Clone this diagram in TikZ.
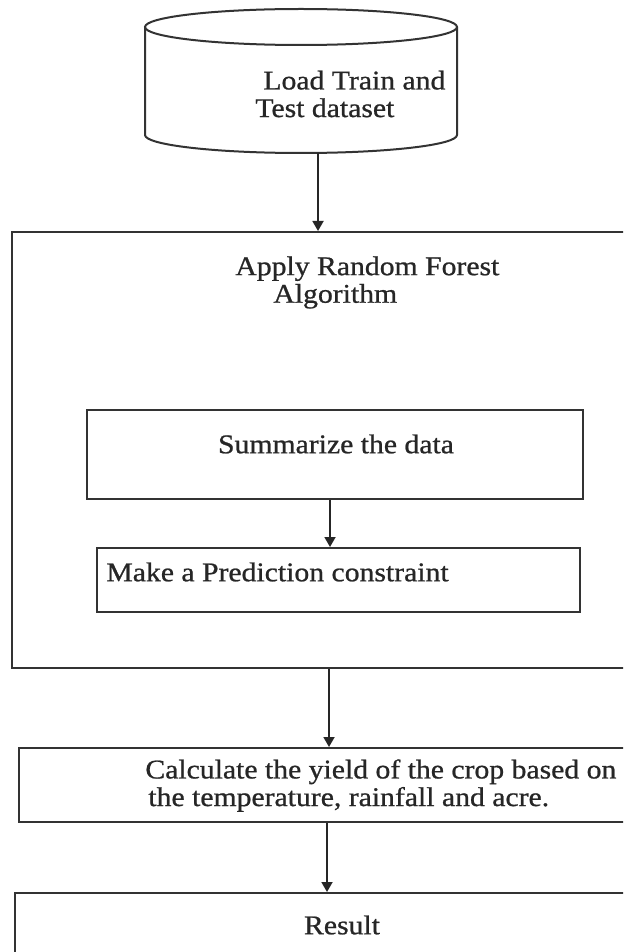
\documentclass[tikz,border=0pt]{standalone}
\usepackage{fontspec}
\setmainfont[FakeStretch=1.1, FakeBold=0.8]{Liberation Serif}
\usetikzlibrary{arrows.meta,fit}
\tikzset{
  box/.style={draw=black!80, line width=1pt, inner sep=0pt, rectangle},
  lbl/.style={text=black!85, font=\fontsize{13.5}{13.8}\selectfont, inner sep=0pt, align=left},
  arr/.style={draw=black!85, line width=0.9pt, -{Triangle[length=5pt,width=5.5pt]}},
}
\begin{document}
\begin{tikzpicture}[x=0.5pt,y=-0.5pt]
\useasboundingbox (0,0) rectangle (623,952);
\fill[white] (0,0) rectangle (623,952);
\clip (0,0) rectangle (623,952);

% data store cylinder
\draw[black!80, line width=1pt] (301,27) ellipse [x radius=78pt, y radius=9pt];
\draw[black!80, line width=1pt] (145,27) -- (145,135)
  arc[start angle=180, end angle=360, x radius=78pt, y radius=9pt] -- (457,27);
\coordinate (cylbot) at (318,153);
\node[lbl, anchor=west] (load) at (255,94) {\hspace{4pt}Load Train and\\Test dataset};

% random forest block with its inner steps
\node[box, fit={(12,232) (650,668)}] (rf) {};
\node[lbl, anchor=north west] (rftxt) at (235,256) {Apply Random Forest\\\hspace{19pt}Algorithm};
\node[box, fit={(87,410) (583,499)}] (sum) {};
\node[lbl] (sumtxt) at (336,444) {Summarize the data};
\node[box, fit={(97,548) (580,612)}] (pred) {};
\node[lbl, anchor=west] (predtxt) at (106,572) {Make a Prediction constraint};

% yield calculation and result
\node[box, fit={(19,748) (650,822)}] (calc) {};
\node[lbl, anchor=north west] (calctxt) at (145,759) {Calculate the yield of the crop based on\\\hspace{1.5pt}the temperature, rainfall and acre.};
\node[box, fit={(15,893) (650,990)}] (res) {};
\node[lbl] (restxt) at (342,925) {Result};

% connectors
\draw[arr] (cylbot) -- (cylbot |- rf.north);
\draw[arr] ([xshift=-2.5pt]sum.south) -- ([xshift=-2.5pt]sum.south |- pred.north);
\coordinate (rfout) at (329,668);
\draw[arr] (rf.south -| rfout) -- (rfout |- calc.north);
\coordinate (calcout) at (327,822);
\draw[arr] (calc.south -| calcout) -- (calcout |- res.north);
\end{tikzpicture}
\end{document}
